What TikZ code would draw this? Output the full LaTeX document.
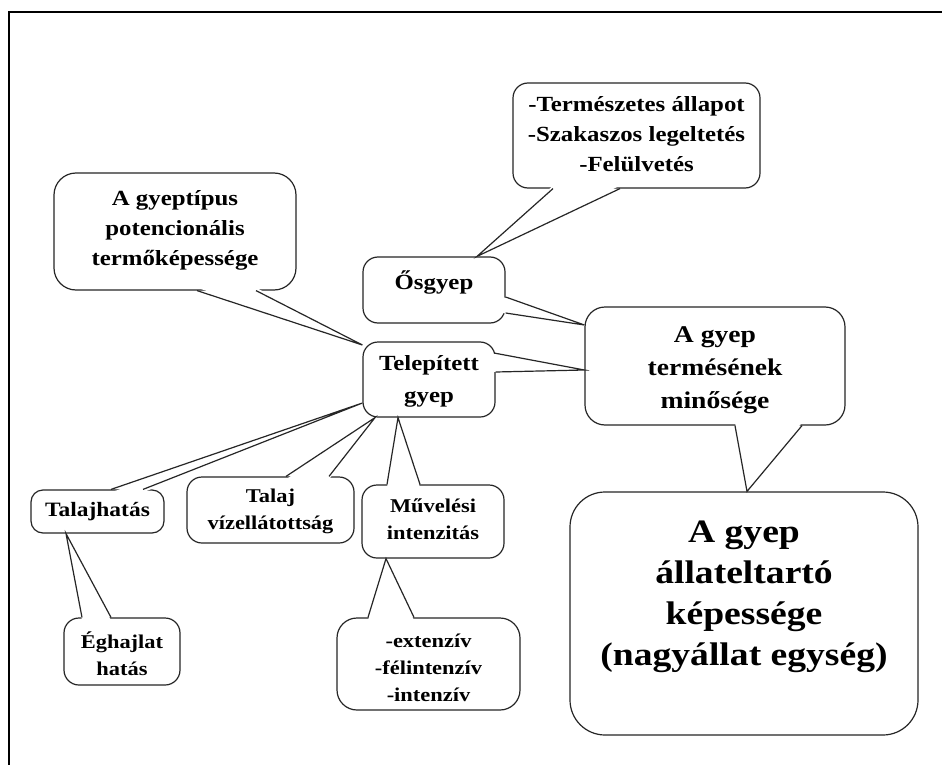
\documentclass[tikz,border=0pt]{standalone}
\usepackage{fontspec}
\setmainfont[FakeStretch=1.15]{Liberation Serif}
\usetikzlibrary{calc}

% callout tail: base points #1,#2 on the speaking box, tip #3, #4 = small shift into the box
\newcommand\calltail[4]{%
  \fill[white] ($#1+#4$) -- #3 -- ($#2+#4$) -- cycle;
  \draw[tailline] #1 -- #3 -- #2;}

\begin{document}
\begin{tikzpicture}[x=1pt,y=-1pt,
  box/.style={draw=black!85, line width=1.2pt, fill=white, inner sep=0pt},
  tailline/.style={draw=black!85, line width=1.2pt, line join=miter},
  lbl/.style={align=center, inner sep=0pt, text=black},
  fsmall/.style={font=\fontsize{19.5pt}{27pt}\selectfont\bfseries},
  fmed/.style={font=\fontsize{21.6pt}{30pt}\selectfont\bfseries},
  fterm/.style={font=\fontsize{24pt}{33pt}\selectfont\bfseries},
  fbig/.style={font=\fontsize{32.7pt}{41pt}\selectfont\bfseries},
]
\useasboundingbox (0,0) rectangle (942,765);
\fill[white] (0,0) rectangle (942,765);

% outer frame
\draw[line width=2pt, black] (9,765) -- (9,12) -- (942,12);

% boxes
\node[box, rounded corners=15pt, minimum width=247pt, minimum height=105pt] (top) at (636.5,135.5) {};
\node[box, rounded corners=22pt, minimum width=242pt, minimum height=117pt] (gyep) at (175,231.5) {};
\node[box, rounded corners=15pt, minimum width=142pt, minimum height=66pt] (osgyep) at (434,290) {};
\node[box, rounded corners=15pt, minimum width=132pt, minimum height=75pt] (telep) at (429,379.5) {};
\node[box, rounded corners=20pt, minimum width=260pt, minimum height=118pt] (termes) at (715,366) {};
\node[box, rounded corners=35pt, minimum width=348pt, minimum height=243pt] (big) at (744,613.5) {};
\node[box, rounded corners=12pt, minimum width=133pt, minimum height=43pt] (talaj) at (97.5,511.5) {};
\node[box, rounded corners=15pt, minimum width=167pt, minimum height=66pt] (viz) at (270.5,510) {};
\node[box, rounded corners=15pt, minimum width=142pt, minimum height=73pt] (muv) at (433,521.5) {};
\node[box, rounded corners=15pt, minimum width=116pt, minimum height=67pt] (eghajlat) at (122,651.5) {};
\node[box, rounded corners=20pt, minimum width=183pt, minimum height=92pt] (ext) at (428.5,664) {};

% tails
\calltail{(553,0 |- top.south)}{(620,0 |- top.south)}{(477,0 |- osgyep.north)}{(0,-3)}
\calltail{(197,0 |- gyep.south)}{(256,0 |- gyep.south)}{(telep.west |- 0,345)}{(0,-3)}
\calltail{(osgyep.east |- 0,297)}{(osgyep.east |- 0,313)}{(termes.west |- 0,325)}{(-3,0)}
\calltail{(494,353)}{(telep.east |- 0,372)}{(termes.west |- 0,370)}{(-3,0)}
\calltail{(735,0 |- termes.south)}{(802,0 |- termes.south)}{(747,0 |- big.north)}{(0,-3)}
\calltail{(111,0 |- talaj.north)}{(143,0 |- talaj.north)}{(telep.west |- 0,403)}{(0,3)}
\calltail{(286,0 |- viz.north)}{(329,0 |- viz.north)}{(375,0 |- telep.south)}{(0,3)}
\calltail{(387,0 |- muv.north)}{(420,0 |- muv.north)}{(398,0 |- telep.south)}{(0,3)}
\calltail{(368,0 |- ext.north)}{(414,0 |- ext.north)}{(386,0 |- muv.south)}{(0,3)}
\calltail{(82,0 |- eghajlat.north)}{(111,0 |- eghajlat.north)}{(66,0 |- talaj.south)}{(0,3)}

% texts
\node[lbl, fmed] (topt) at (636.5,134) {-Természetes állapot\\-Szakaszos legeltetés\\-Felülvetés};
\node[lbl, fmed] (gyept) at (175,230) {A gyeptípus\\potencionális\\termőképessége};
\node[lbl, fmed] (osgyept) at (434,283) {Ősgyep};
\node[lbl, fmed, font=\fontsize{21.6pt}{32pt}\selectfont\bfseries] (telept) at (429,381) {Telepített\\gyep};
\node[lbl, fterm] (termest) at (715,370) {A gyep\\termésének\\minősége};
\node[lbl, fbig] (bigt) at (744,597) {A gyep\\állateltartó\\képessége\\(nagyállat egység)};
\node[lbl, fsmall, font=\fontsize{20.4pt}{27pt}\selectfont\bfseries] (talajt) at (97.5,512) {Talajhatás};
\node[lbl, fsmall] (vizt) at (270.5,511) {Talaj\\vízellátottság};
\node[lbl, fsmall] (muvt) at (433,519.5) {Művelési\\intenzitás};
\node[lbl, fsmall] (eghajlatt) at (122,653.5) {Éghajlat\\hatás};
\node[lbl, fsmall] (extt) at (428.5,668) {-extenzív\\-félintenzív\\-intenzív};
\end{tikzpicture}
\end{document}
